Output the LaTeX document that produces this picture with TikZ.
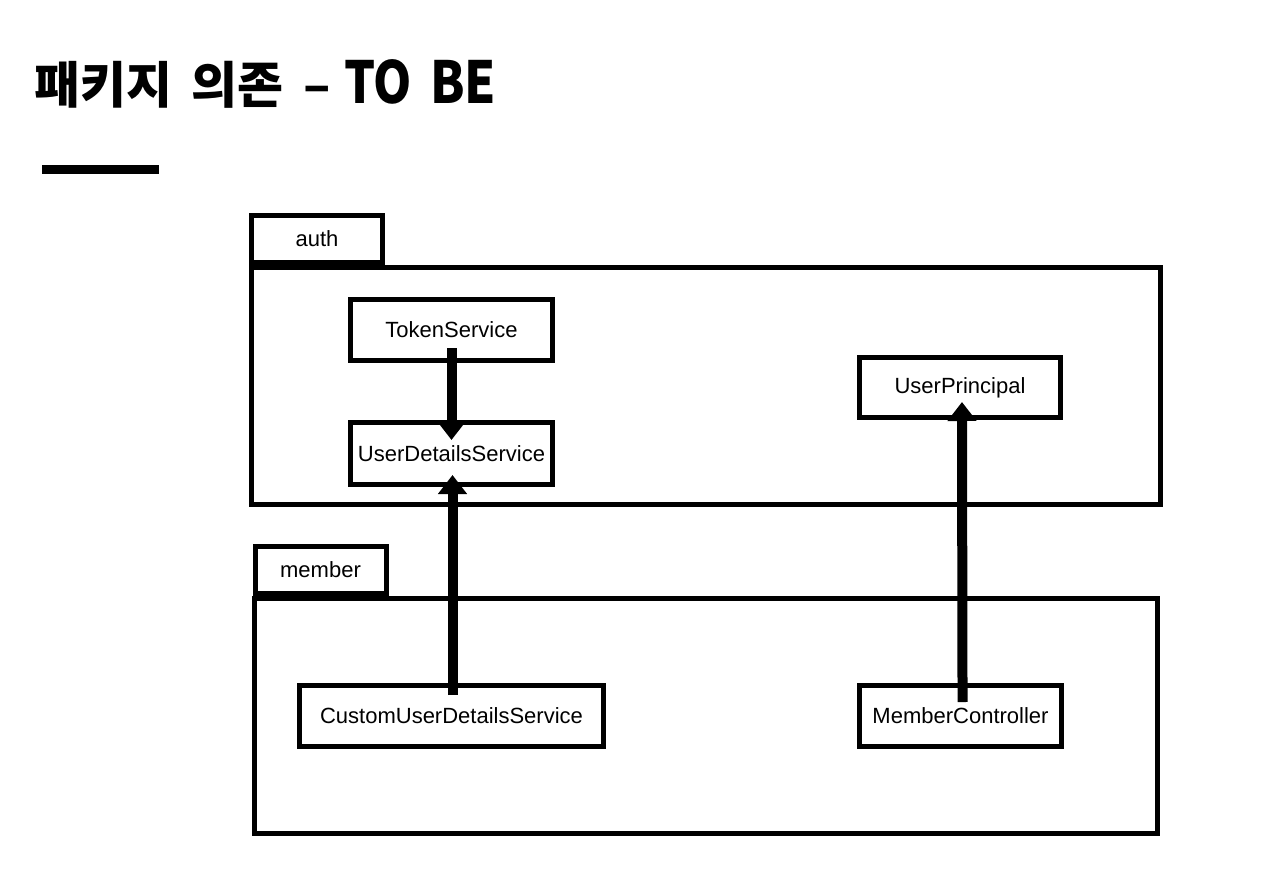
\documentclass[tikz,border=0pt]{standalone}
\usepackage{fontspec}
\usepackage{graphicx}
\setmainfont{Liberation Sans}
\newfontfamily\cjk{Noto Sans CJK KR}
\usetikzlibrary{arrows.meta}
\begin{document}
\begin{tikzpicture}[x=1pt,y=-1pt,
  cls/.style={draw,line width=5pt,inner sep=0pt,font=\fontsize{22}{26}\selectfont,fill=white},
  pkgtab/.style={draw,line width=5pt,inner sep=0pt,font=\fontsize{22}{26}\selectfont,minimum width=131pt,minimum height=47pt},
  pkgbody/.style={line width=5pt},
  dep/.style={line width=10pt,-{Triangle[width=28pt,length=19pt]}}]
\useasboundingbox[fill=white] (0,0) rectangle (1280,875);
\node[anchor=base west,font=\cjk\bfseries\fontsize{50}{56}\selectfont,inner sep=0pt] (title) at (34,103)
  {패키지\kern8pt\ 의존\kern8pt\ –\kern2pt\ {\fontsize{58}{60}\selectfont\scalebox{0.84}[1]{TO}\kern5pt\ \scalebox{0.86}[1]{BE}}};
\fill (42,165) rectangle (159,174);
% packages
\node[pkgtab] (authtab) at (317,239) {auth};
\draw[pkgbody] (251.5,267.5) rectangle (1160.5,504.5);
\node[pkgtab] (membertab) at (320.5,569.5) {member};
\draw[pkgbody] (254.5,598.5) rectangle (1157.5,833.5);
% classes
\node[cls,minimum width=202pt,minimum height=61pt] (ts) at (451.5,330) {TokenService};
\node[cls,minimum width=202pt,minimum height=62pt] (uds) at (451.5,453.5) {UserDetailsService};
\node[cls,minimum width=201pt,minimum height=60pt] (up) at (960,387.5) {UserPrincipal};
\node[cls,minimum width=304pt,minimum height=61pt] (cuds) at (451.5,716) {CustomUserDetailsService};
\node[cls,minimum width=202pt,minimum height=61pt] (mc) at (960.5,716) {MemberController};
% dependencies
\draw[dep,shorten <=-15pt,shorten >=-20pt] (ts.south) -- (uds.north);
\draw[dep,shorten <=-12pt,shorten >=-12pt] ([xshift=1pt]cuds.north) -- ([xshift=1pt]uds.south);
\draw[dep,shorten <=-19pt,shorten >=-18pt] ([xshift=2pt]mc.north) -- ([xshift=2pt]up.south);
\end{tikzpicture}
\end{document}
